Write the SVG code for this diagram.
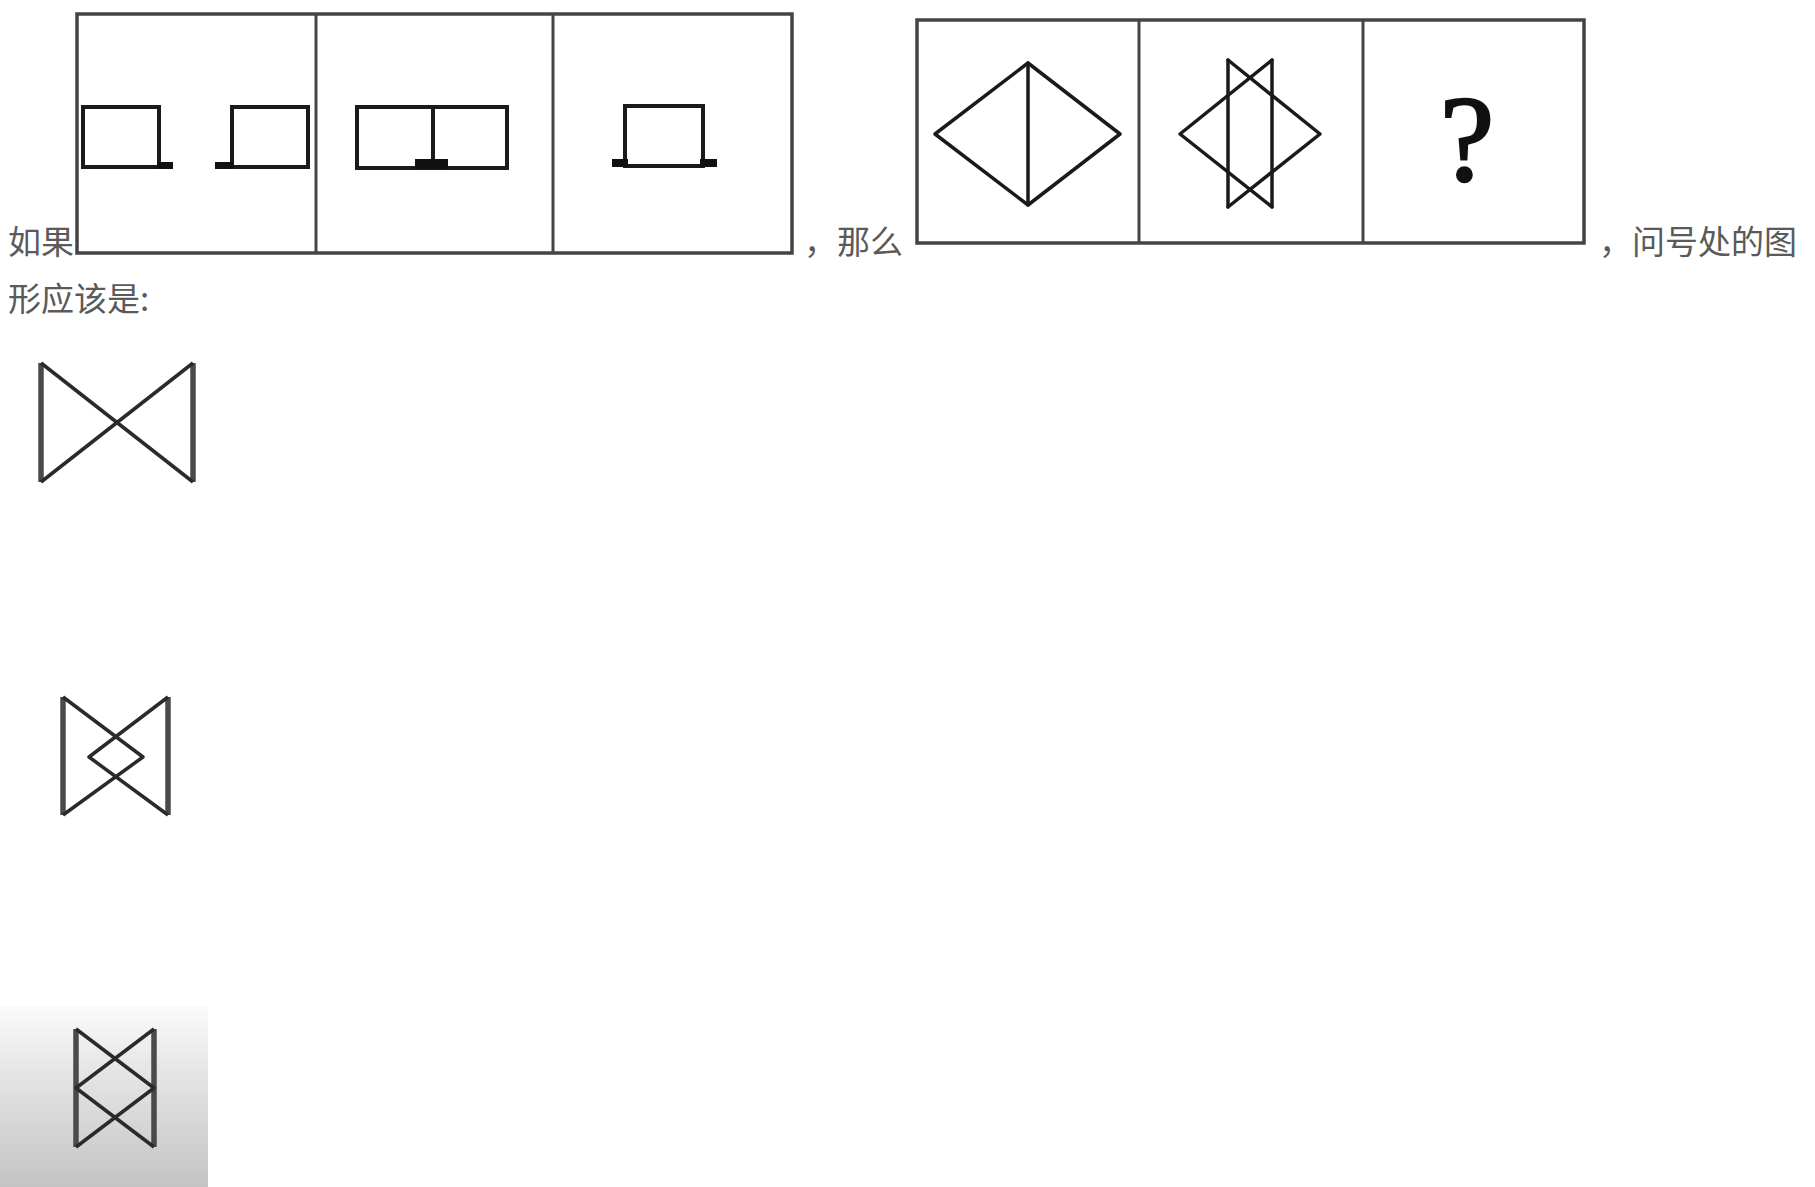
<svg xmlns="http://www.w3.org/2000/svg" width="1815" height="1187" viewBox="0 0 1815 1187">
  <defs>
    <linearGradient id="shade" x1="0" y1="0" x2="0" y2="1">
      <stop offset="0" stop-color="#fbfbfb"/>
      <stop offset="0.35" stop-color="#e6e6e6"/>
      <stop offset="1" stop-color="#c4c4c4"/>
    </linearGradient>
  </defs>
  <style>
    .frame { fill: none; stroke: #444; stroke-width: 3.5; }
    .div { stroke: #444; stroke-width: 3; }
    .fig { fill: none; stroke: #1a1a1a; stroke-width: 4; stroke-linejoin: miter; }
    .foot { fill: #111; }
    .line { fill: none; stroke: #1a1a1a; stroke-width: 3.5; stroke-linecap: round; stroke-linejoin: round; }
    .opt { fill: none; stroke: #2a2a2a; stroke-width: 3.5; stroke-linejoin: round; }
    .side { stroke: #4a4a4a; stroke-width: 5.5; }
    .txt { font-family: "Noto Sans CJK SC", "Noto Sans", sans-serif; font-size: 33px; fill: #5a5a5a; }
    .q { font-family: "Liberation Serif", serif; font-size: 122px; fill: #111; stroke: #111; stroke-width: 2.5; }
  </style>
  <rect width="1815" height="1187" fill="#ffffff"/>
  <rect x="0" y="1005" width="208" height="182" fill="url(#shade)"/>

  <g id="text">
    <text class="txt" x="8" y="254">如果</text>
    <text class="txt" x="804" y="254">，那么</text>
    <text class="txt" x="1599" y="254">，问号处的图</text>
    <text class="txt" x="8" y="311">形应该是:</text>
  </g>

  <g id="row1">
    <rect class="frame" x="77" y="14" width="715" height="239"/>
    <line class="div" x1="316" y1="14" x2="316" y2="253"/>
    <line class="div" x1="553" y1="14" x2="553" y2="253"/>
  </g>
  <g id="r1p1">
    <rect class="fig" x="83" y="107" width="76" height="60"/>
    <rect class="foot" x="157" y="162" width="16" height="7"/>
    <rect class="fig" x="232" y="107" width="76" height="60"/>
    <rect class="foot" x="215" y="162" width="19" height="7"/>
  </g>
  <g id="r1p2">
    <rect class="fig" x="357" y="107" width="150" height="61"/>
    <line class="fig" x1="433" y1="107" x2="433" y2="166"/>
    <rect class="foot" x="415" y="159" width="33" height="10"/>
  </g>
  <g id="r1p3">
    <rect class="fig" x="625" y="106" width="78" height="60"/>
    <rect class="foot" x="612" y="159" width="16" height="8"/>
    <rect class="foot" x="700" y="159" width="17" height="8"/>
  </g>

  <g id="row2">
    <rect class="frame" x="917" y="20" width="667" height="223"/>
    <line class="div" x1="1139" y1="20" x2="1139" y2="243"/>
    <line class="div" x1="1363" y1="20" x2="1363" y2="243"/>
  </g>
  <g id="r2p1">
    <polygon class="line" points="1028,63 1120,134 1028,205 935,134"/>
    <line class="line" x1="1028" y1="63" x2="1028" y2="205"/>
  </g>
  <g id="r2p2">
    <line class="line" x1="1228" y1="60" x2="1228" y2="207"/>
    <line class="line" x1="1272" y1="60" x2="1272" y2="207"/>
    <polyline class="line" points="1272,60 1180,134 1272,207"/>
    <polyline class="line" points="1228,60 1320,134 1228,207"/>
  </g>
  <g id="r2p3">
    <text class="q" x="1467" y="180" text-anchor="middle">?</text>
  </g>

  <g id="optionA">
    <line class="side" x1="41" y1="363" x2="41" y2="482"/>
    <line class="side" x1="193" y1="363" x2="193" y2="482"/>
    <line class="opt" x1="41" y1="363" x2="193" y2="482"/>
    <line class="opt" x1="41" y1="482" x2="193" y2="363"/>
  </g>
  <g id="optionB">
    <line class="side" x1="63" y1="697" x2="63" y2="815"/>
    <line class="side" x1="168" y1="697" x2="168" y2="815"/>
    <polyline class="opt" points="63,697 143,757 63,815"/>
    <polyline class="opt" points="168,697 89,757 168,815"/>
  </g>
  <g id="optionC">
    <line class="side" x1="76" y1="1029" x2="76" y2="1147"/>
    <line class="side" x1="154" y1="1029" x2="154" y2="1147"/>
    <polyline class="opt" points="76,1029 154,1088 76,1147"/>
    <polyline class="opt" points="154,1029 76,1088 154,1147"/>
  </g>
</svg>
